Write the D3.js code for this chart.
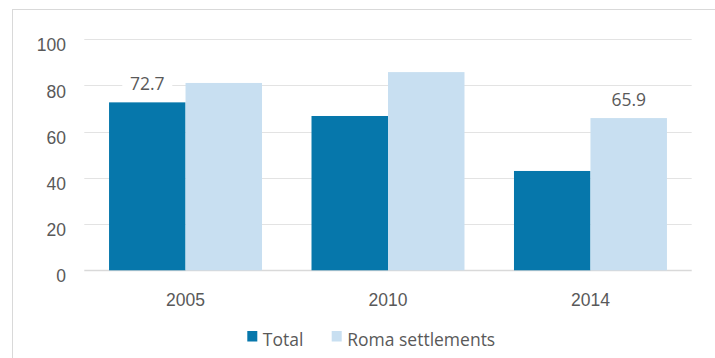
<!DOCTYPE html>
<html>
<head>
<meta charset="utf-8">
<script src="https://cdn.jsdelivr.net/npm/d3@7"></script>
<style>
  html, body { margin: 0; padding: 0; background: #fff; }
  svg { display: block; font-family: "Open Sans", sans-serif; }
</style>
</head>
<body>
<svg id="chart" width="715" height="358"></svg>
<script>
// Share of respondents, by year
const years = ["2005", "2010", "2014"];
const seriesNames = ["Total", "Roma settlements"];
const totalValues = [72.7, 66.8, 43.0];
const romaValues = [81.1, 85.8, 65.9];
const yTicks = [0, 20, 40, 60, 80, 100];
// Bars that carry a value label: [series index, year index]
const labelled = [[0, 0], [1, 2]];

const colors = ["#0677ab", "#c8dff1"];
const textColor = "#595959";

const svg = d3.select("#chart");
const plot = { left: 84.3, right: 691.7, top: 39.3, bottom: 270.3 };

// Outer frame of the chart area
svg.append("rect")
  .attr("x", 12.5).attr("y", 9.5)
  .attr("width", 720).attr("height", 360)
  .attr("fill", "#fff")
  .attr("stroke", "#d9d9d9").attr("stroke-width", 1);

const x0 = d3.scaleBand()
  .domain(years)
  .range([plot.left, plot.right])
  .paddingInner(0.2444)
  .paddingOuter(0.1222);

const x1 = d3.scaleBand()
  .domain(seriesNames)
  .range([0, x0.bandwidth()]);

const y = d3.scaleLinear()
  .domain([0, 100])
  .range([plot.bottom, plot.top]);

// Horizontal gridlines
svg.append("g")
  .selectAll("line")
  .data(yTicks)
  .join("line")
  .attr("x1", plot.left).attr("x2", plot.right)
  .attr("y1", d => Math.round(y(d)) + 0.5)
  .attr("y2", d => Math.round(y(d)) + 0.5)
  .attr("stroke", d => d === 0 ? "#d9d9d9" : "#e3e3e3")
  .attr("stroke-width", d => d === 0 ? 1.5 : 1);

// Y axis labels, sitting slightly below their gridlines
const yAxis = d3.axisLeft(y).tickValues(yTicks).tickSize(0).tickPadding(0);
const yg = svg.append("g")
  .attr("transform", `translate(${66},0)`)
  .call(yAxis);
yg.select(".domain").remove();
yg.selectAll("text")
  .attr("fill", textColor)
  .attr("font-size", 17.5)
  .attr("dy", 11.5);

// X axis labels
const xAxis = d3.axisBottom(x0).tickSize(0).tickPadding(0);
const xg = svg.append("g")
  .attr("transform", `translate(0,${306})`)
  .call(xAxis);
xg.select(".domain").remove();
xg.selectAll("text")
  .attr("fill", textColor)
  .attr("font-size", 17.5)
  .attr("dy", 0);

// Bars
const seriesData = [totalValues, romaValues];
const groups = svg.append("g")
  .selectAll("g")
  .data(years)
  .join("g")
  .attr("transform", d => `translate(${x0(d)},0)`);

groups.selectAll("rect")
  .data((d, i) => seriesNames.map((s, j) => ({ series: s, j, value: seriesData[j][i] })))
  .join("rect")
  .attr("x", d => x1(d.series))
  .attr("width", x1.bandwidth())
  .attr("y", d => y(d.value))
  .attr("height", d => y(0) - y(d.value))
  .attr("fill", d => colors[d.j]);

// Value labels with a white backing box
const labels = svg.append("g")
  .selectAll("g")
  .data(labelled.map(([j, i]) => ({
    value: seriesData[j][i],
    cx: x0(years[i]) + x1(seriesNames[j]) + x1.bandwidth() / 2
  })))
  .join("g")
  .attr("transform", d => `translate(${d.cx},${y(d.value) - 12})`);

labels.append("rect")
  .attr("x", -25).attr("y", -20)
  .attr("width", 50).attr("height", 26)
  .attr("fill", "#fff");

labels.append("text")
  .attr("text-anchor", "middle")
  .attr("fill", textColor)
  .attr("font-size", 17.5)
  .text(d => d.value.toFixed(1));

// Legend
const legend = svg.append("g");
const legendX = [247.3, 331.7];
seriesNames.forEach((name, j) => {
  legend.append("rect")
    .attr("x", legendX[j]).attr("y", 331)
    .attr("width", 10).attr("height", 10.5)
    .attr("fill", colors[j]);
  legend.append("text")
    .attr("x", legendX[j] + 15.5).attr("y", 346)
    .attr("fill", textColor)
    .attr("font-size", 17.5)
    .text(name);
});
</script>
</body>
</html>
